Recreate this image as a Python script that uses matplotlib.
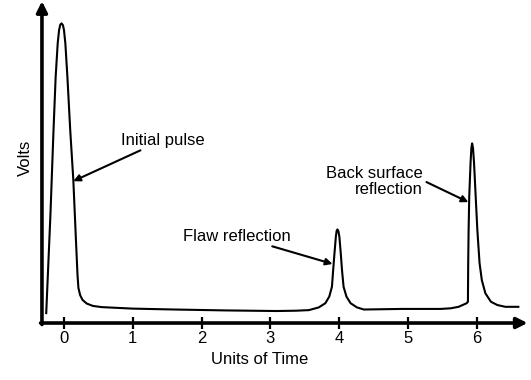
import numpy as np
import matplotlib.pyplot as plt

plt.rcParams['font.family'] = ['Liberation Sans', 'DejaVu Sans']

# ultrasonic A-scan trace (time units, volts in arbitrary units)
time = [-0.258, -0.197, -0.152, -0.121, -0.091, -0.071, -0.053, -0.035, -0.015,
        0.0, 0.02, 0.05, 0.091, 0.136, 0.174, 0.197, 0.21, 0.235, 0.27,
        0.33, 0.42, 0.55, 1.0, 1.61, 2.35, 3.09, 3.37,
        3.561, 3.704, 3.80, 3.857, 3.896, 3.914, 3.933, 3.953, 3.964, 3.976,
        3.989, 4.004, 4.024, 4.042, 4.065, 4.107, 4.167, 4.26, 4.36,
        4.92, 5.48, 5.62, 5.737, 5.855, 5.873, 5.877, 5.883, 5.892, 5.911,
        5.923, 5.934, 5.947, 5.962, 5.986, 6.01, 6.042, 6.075, 6.127, 6.207,
        6.30, 6.418, 6.606]
volts = [0.33, 3.6, 6.43, 8.2, 9.33, 9.77, 9.95, 9.99, 9.93,
         9.77, 9.33, 8.2, 6.43, 4.77, 2.77, 1.6, 1.17, 0.93, 0.77,
         0.65, 0.57, 0.53, 0.48, 0.45, 0.42, 0.40, 0.41,
         0.43, 0.52, 0.66, 0.88, 1.21, 1.77, 2.33, 2.88, 3.07, 3.12,
         3.07, 2.88, 2.33, 1.77, 1.21, 0.88, 0.66, 0.52, 0.45,
         0.47, 0.47, 0.49, 0.54, 0.66, 0.71, 2.0, 3.1, 4.21, 5.33,
         5.83, 5.99, 5.83, 5.33, 4.21, 3.1, 2.0, 1.43, 0.99, 0.71,
         0.6, 0.54, 0.54]
ticks = [0, 1, 2, 3, 4, 5, 6]

fig = plt.figure(figsize=(5.31, 3.80), dpi=100)
ax = fig.add_axes([0, 0, 1, 1])
ax.set_xlim(-0.93, 6.79)
ax.set_ylim(-1.9, 10.77)

ax.plot(time, volts, color='black', lw=1.5, solid_joinstyle='round')

# axes drawn as thick arrows
x0 = -0.32
for s in ax.spines.values():
    s.set_visible(False)
ax.spines['bottom'].set_position(('data', 0))
ax.annotate('', xy=(6.74, 0), xytext=(x0 - 0.02, 0),
            arrowprops=dict(arrowstyle='-|>', lw=2.6, color='black',
                            mutation_scale=16, shrinkA=0, shrinkB=0))
ax.annotate('', xy=(x0, 10.73), xytext=(x0, -0.05),
            arrowprops=dict(arrowstyle='-|>', lw=2.6, color='black',
                            mutation_scale=16, shrinkA=0, shrinkB=0))

ax.set_xticks(ticks)
ax.set_xticklabels([str(t) for t in ticks])
ax.tick_params(axis='x', direction='inout', length=8, width=1.6, pad=2,
               labelsize=12)
ax.set_yticks([])

ax.text(2.85, -1.2, 'Units of Time', ha='center', va='center', fontsize=12)
ax.text(-0.56, 5.5, 'Volts', rotation=90, ha='center', va='center', fontsize=12)

arrow = dict(arrowstyle='-|>', lw=1.5, color='black', mutation_scale=10,
             shrinkA=0, shrinkB=0)
ax.annotate('Initial pulse', xy=(0.135, 4.73), xytext=(0.83, 6.1),
            ha='left', va='center', fontsize=12, arrowprops=arrow)
ax.annotate('Flaw reflection', xy=(3.905, 1.97), xytext=(3.3, 2.9),
            ha='right', va='center', fontsize=12, arrowprops=arrow)
ax.annotate('', xy=(5.88, 4.03), xytext=(5.27, 4.7), arrowprops=arrow)
ax.text(5.22, 4.72, 'Back surface\nreflection', ha='right', va='center',
        multialignment='right', fontsize=12, linespacing=1.15)

fig.savefig('out.png', dpi=100)
